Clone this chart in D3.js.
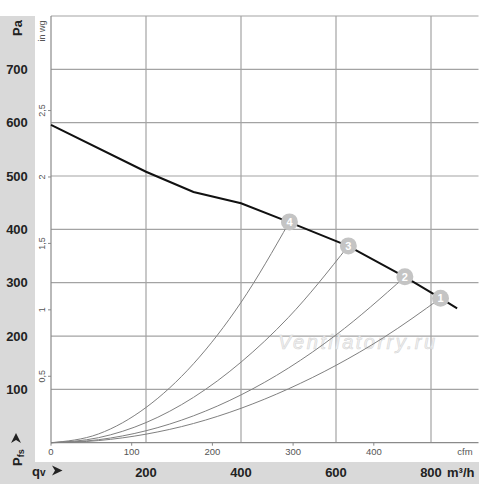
<!DOCTYPE html>
<html><head><meta charset="utf-8">
<script src="https://cdn.jsdelivr.net/npm/d3@7"></script>
<style>
html,body{margin:0;padding:0;background:#fff;}
svg{display:block;font-family:"Liberation Sans",Arial,sans-serif;}
</style></head>
<body>
<svg id="c" width="500" height="484"></svg>
<script>
// ---- data ----
const fanQ  = [0, 200, 300, 400, 500, 625, 745, 820, 855];      // m³/h
const fanPa = [596, 508, 470, 449, 414, 369, 311, 271, 252];    // Pa
const markerLabels = ["1", "2", "3", "4"];
const markerQ  = [820, 745, 626, 502];
const markerPa = [271, 311, 369, 414];
const sysQ1 = [0, 100, 200, 300, 400, 500, 600, 700, 820];
const sysPa1 = [0, 4, 16, 36, 64.5, 101, 145, 197, 271];
const sysQ2 = [0, 100, 200, 300, 400, 500, 600, 745];
const sysPa2 = [0, 5.6, 22.4, 50.4, 89.6, 140, 202, 311];
const sysQ3 = [0, 100, 200, 300, 400, 500, 626];
const sysPa3 = [0, 9.4, 37.7, 85, 151, 235, 369];
const sysQ4 = [0, 100, 200, 300, 400, 502];
const sysPa4 = [0, 16.4, 66, 148, 263, 414];
const paTicks = [100, 200, 300, 400, 500, 600, 700];
const inwgTicks = [0.5, 1, 1.5, 2, 2.5];
const inwgLabels = ["0,5", "1", "1,5", "2", "2,5"];
const qTicks = [200, 400, 600, 800];
const cfmTicks = [0, 100, 200, 300, 400];
const PA_PER_INWG = 249.09;
const M3H_PER_CFM = 1.699;

// ---- layout ----
const svg = d3.select("#c");
const x = d3.scaleLinear().domain([0, 900]).range([51, 478.5]);
const y = d3.scaleLinear().domain([0, 800]).range([442.7, 16]);
const gray = "#d9d9d9";

// backgrounds
svg.append("rect").attr("x", 0).attr("y", 16).attr("width", 35).attr("height", 468).attr("fill", gray);
svg.append("rect").attr("x", 0).attr("y", 462).attr("width", 479).attr("height", 22).attr("fill", gray);

// grid
const grid = svg.append("g").attr("stroke", "#a3a3a3").attr("stroke-width", 1.2);
grid.selectAll("line.h").data(paTicks.concat([800])).join("line")
  .attr("x1", x(0)).attr("x2", x(900)).attr("y1", d => y(d)).attr("y2", d => y(d));
grid.selectAll("line.v").data(qTicks).join("line")
  .attr("x1", d => x(d)).attr("x2", d => x(d)).attr("y1", y(800)).attr("y2", y(0));

// axes lines
svg.append("line").attr("x1", x(0)).attr("x2", x(0)).attr("y1", y(800)).attr("y2", y(0)).attr("stroke", "#8a8a8a").attr("stroke-width", 1.2);
svg.append("line").attr("x1", x(0)).attr("x2", x(900)).attr("y1", y(0)).attr("y2", y(0)).attr("stroke", "#8a8a8a").attr("stroke-width", 1.2);

// watermark
svg.append("text").attr("x", 278).attr("y", 349).attr("font-size", 20).attr("font-style", "italic")
  .attr("fill", "#f2f2f2").attr("stroke", "#d6d6d6").attr("stroke-width", 0.6)
  .attr("textLength", 157).text("Ventilatorry.ru");

// Pa labels
svg.append("g").selectAll("text").data(paTicks).join("text")
  .attr("x", 17).attr("y", d => y(d)).attr("dy", "0.36em").attr("text-anchor", "middle")
  .attr("font-size", 13).attr("font-weight", "bold").attr("fill", "#222").text(d => d);
svg.append("text").attr("transform", "translate(22,28) rotate(-90)").attr("text-anchor", "middle")
  .attr("font-size", 13).attr("font-weight", "bold").attr("fill", "#222").text("Pa");

// in wg axis
const ywg = d => y(d * PA_PER_INWG);
svg.append("g").selectAll("line").data(inwgTicks).join("line")
  .attr("x1", 48).attr("x2", 51).attr("y1", ywg).attr("y2", ywg).attr("stroke", "#888");
svg.append("g").selectAll("text").data(inwgTicks).join("text")
  .attr("transform", d => `translate(45,${ywg(d)}) rotate(-90)`).attr("text-anchor", "middle")
  .attr("font-size", 9).attr("fill", "#555").text((d, i) => inwgLabels[i]);
svg.append("text").attr("transform", "translate(45,31) rotate(-90)").attr("text-anchor", "middle")
  .attr("font-size", 9).attr("fill", "#555").text("in wg");

// cfm axis
const xcfm = d => x(d * M3H_PER_CFM);
svg.append("g").selectAll("line").data(cfmTicks).join("line")
  .attr("x1", xcfm).attr("x2", xcfm).attr("y1", y(0)).attr("y2", y(0) + 3).attr("stroke", "#888");
svg.append("g").selectAll("text").data(cfmTicks).join("text")
  .attr("x", xcfm).attr("y", 455).attr("text-anchor", "middle")
  .attr("font-size", 9.5).attr("fill", "#555").text(d => d);
svg.append("text").attr("x", 465).attr("y", 455).attr("text-anchor", "middle")
  .attr("font-size", 9.5).attr("fill", "#555").text("cfm");

// m³/h labels
svg.append("g").selectAll("text").data(qTicks).join("text")
  .attr("x", d => x(d)).attr("y", 477).attr("text-anchor", "middle")
  .attr("font-size", 13).attr("font-weight", "bold").attr("fill", "#222").text(d => d);
svg.append("text").attr("x", 447).attr("y", 477).attr("font-size", 13).attr("font-weight", "bold")
  .attr("fill", "#222").text("m³/h");

// qv label + arrow
const qv = svg.append("text").attr("x", 32).attr("y", 476).attr("font-size", 13).attr("font-weight", "bold").attr("fill", "#222");
qv.append("tspan").text("q");
qv.append("tspan").attr("font-size", 10).attr("dy", 0).text("v");
svg.append("path").attr("d", "M52,465.5 L62.5,470.5 L52,475.5 L55,470.5 Z").attr("fill", "#222");

// Pfs label + arrow
const pfs = svg.append("text").attr("transform", "translate(22,466) rotate(-90)").attr("font-size", 13)
  .attr("font-weight", "bold").attr("fill", "#222");
pfs.append("tspan").text("P");
pfs.append("tspan").attr("font-size", 9).attr("dy", 2).text("fs");
svg.append("path").attr("d", "M11,443 L16,433 L21,443 L16,440 Z").attr("fill", "#222");

// system curves
const line = d3.line().x(d => x(d[0])).y(d => y(d[1])).curve(d3.curveMonotoneX);
const sys = [[sysQ1, sysPa1], [sysQ2, sysPa2], [sysQ3, sysPa3], [sysQ4, sysPa4]];
svg.append("g").selectAll("path").data(sys).join("path")
  .attr("d", s => line(s[0].map((q, i) => [q, s[1][i]])))
  .attr("fill", "none").attr("stroke", "#808080").attr("stroke-width", 1);

// fan curve
svg.append("path").attr("d", d3.line().x(d => x(d[0])).y(d => y(d[1]))(fanQ.map((q, i) => [q, fanPa[i]])))
  .attr("fill", "none").attr("stroke", "#111").attr("stroke-width", 2);

// markers
const mk = svg.append("g").selectAll("g").data(markerLabels).join("g")
  .attr("transform", (d, i) => `translate(${x(markerQ[i])},${y(markerPa[i])})`);
mk.append("circle").attr("r", 8.5).attr("fill", "#c4c4c4");
mk.append("text").attr("text-anchor", "middle").attr("dy", "0.36em").attr("font-size", 11)
  .attr("font-weight", "bold").attr("fill", "#fff").text(d => d);
</script>
</body></html>
